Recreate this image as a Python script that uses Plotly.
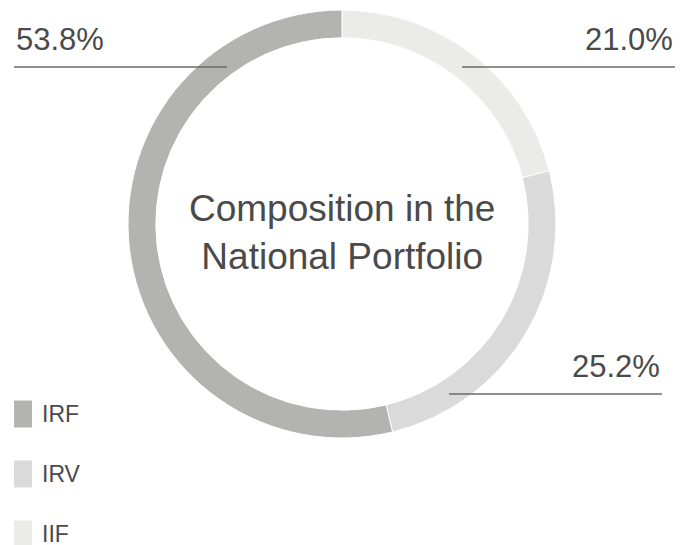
import plotly.graph_objects as go

labels = ["IRF", "IRV", "IIF"]
values = [53.8, 25.2, 21.0]
colors = ["#b3b4b2", "#d9dad9", "#ebebea"]
center_title = "Composition in the<br>National Portfolio"

W, H = 694, 545
FONT = "Arial, Liberation Sans, sans-serif"
TXT = "#4a4a4a"

def px(x):
    return x / W

def py(y):
    return 1 - y / H

fig = go.Figure()
# slices drawn clockwise from 12 o'clock in reverse legend order
fig.add_trace(go.Pie(
    labels=labels[::-1],
    values=values[::-1],
    hole=0.87,
    sort=False,
    direction="clockwise",
    rotation=0,
    marker=dict(colors=colors[::-1], line=dict(color="white", width=1)),
    textinfo="none",
    showlegend=False,
    domain=dict(x=[px(342 - 214), px(342 + 214)], y=[py(438), py(10)]),
))

shapes = []
annotations = []

# center title
annotations.append(dict(
    x=px(342), y=py(232), xref="paper", yref="paper",
    text=center_title, showarrow=False,
    font=dict(family=FONT, size=37, color=TXT),
    xanchor="center", yanchor="middle", align="center",
))

# percentage labels with leader lines (layout positions)
label_layout = {
    "IRF": dict(x0=14, x1=227, y=67, anchor="left"),
    "IIF": dict(x0=462, x1=675, y=67, anchor="right"),
    "IRV": dict(x0=449, x1=662, y=394, anchor="right"),
}
for lab, val in zip(labels, values):
    L = label_layout[lab]
    shapes.append(dict(type="line", xref="paper", yref="paper",
                       x0=px(L["x0"]), x1=px(L["x1"]), y0=py(L["y"]), y1=py(L["y"]),
                       line=dict(color="#6a6a6a", width=1.5)))
    ax = L["x0"] if L["anchor"] == "left" else L["x1"]
    annotations.append(dict(
        x=px(ax), y=py(L["y"]), xref="paper", yref="paper",
        text=f"{val:.1f}%", showarrow=False,
        font=dict(family=FONT, size=31, color=TXT),
        xanchor=L["anchor"], yanchor="bottom", yshift=8,
    ))

# legend
for i, (lab, col) in enumerate(zip(labels, colors)):
    cy = 414 + 60 * i
    shapes.append(dict(type="rect", xref="paper", yref="paper",
                       x0=px(14), x1=px(32), y0=py(cy - 13.5), y1=py(cy + 13.5),
                       fillcolor=col, line=dict(width=0)))
    annotations.append(dict(
        x=px(40), y=py(cy), xref="paper", yref="paper",
        text=lab, showarrow=False,
        font=dict(family=FONT, size=23, color=TXT),
        xanchor="left", yanchor="middle",
    ))

fig.update_layout(
    width=W, height=H,
    margin=dict(l=0, r=0, t=0, b=0),
    paper_bgcolor="white", plot_bgcolor="white",
    shapes=shapes, annotations=annotations,
    showlegend=False,
)

fig.write_html("out.html", config={"displayModeBar": False},
               post_script="document.body.style.margin='0';")
